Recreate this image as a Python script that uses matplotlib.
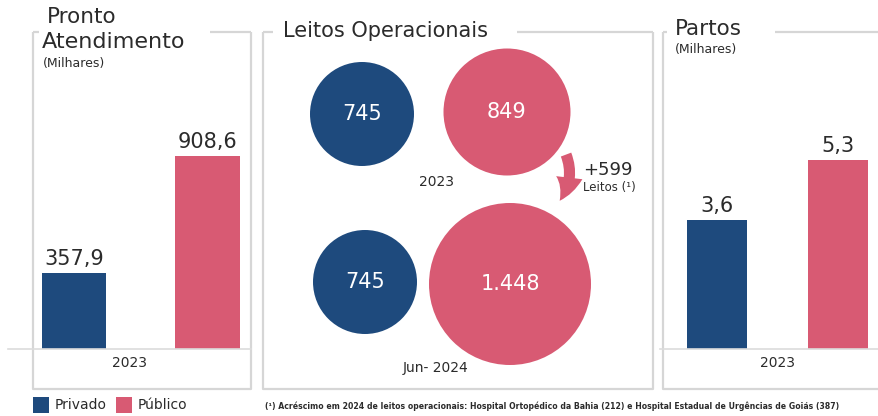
import matplotlib
matplotlib.use("Agg")
import matplotlib.pyplot as plt
from matplotlib.patches import Circle, FancyArrowPatch, Rectangle

# ---- data ----
categories = ["Privado", "Público"]
pronto_atendimento_2023 = [357.9, 908.6]   # milhares
partos_2023 = [3.6, 5.3]                   # milhares
leitos_periodos = ["2023", "Jun- 2024"]
leitos_privado = [745, 745]
leitos_publico = [849, 1448]
acrescimo_leitos = leitos_publico[1] - leitos_publico[0]
nota = ("(¹) Acréscimo em 2024 de leitos operacionais: Hospital Ortopédico da Bahia (212) "
        "e Hospital Estadual de Urgências de Goiás (387)")

# ---- style ----
BLUE = "#1e4a7d"
PINK = "#d85a73"
TEXT = "#2b2b2b"
FRAME = "#d6d6d6"
BASE = "#dcdcdc"
colors = [BLUE, PINK]
plt.rcParams["font.family"] = ["DejaVu Sans"]

W, H = 879, 416
fig = plt.figure(figsize=(W / 100, H / 100), dpi=100)


def fig_rect(x0, y0, x1, y1):
    """Pixel box (top-left origin) -> figure-fraction rectangle."""
    return [x0 / W, 1 - y1 / H, (x1 - x0) / W, (y1 - y0) / H]


def fmt_br(v):
    return f"{v:.1f}".replace(".", ",")


def fmt_int(v):
    return f"{v:,}".replace(",", ".")


def bar_panel(rect, values, xlim, px_per_unit, width, label_pad):
    ax = fig.add_axes(fig_rect(*rect))
    height_px = rect[3] - rect[1]
    ax.set_xlim(*xlim)
    ax.set_ylim(0, height_px / px_per_unit)
    xs = range(len(values))
    ax.bar(xs, values, width=width, color=colors)
    for x, v in zip(xs, values):
        ax.annotate(fmt_br(v), (x, v), xytext=(0, label_pad), textcoords="offset points",
                    ha="center", va="bottom", fontsize=15, color=TEXT)
    ax.axis("off")
    return ax


# bar panels (baseline at pixel row 349)
bar_panel((33, 32, 251, 349), pronto_atendimento_2023, (-0.307, 1.326), 0.212, 0.48, 3)
bar_panel((663, 32, 878, 349), partos_2023, (-0.446, 1.33), 35.7, 0.49, 3)

# overlay for frames, bubbles and text, in pixel coordinates
ov = fig.add_axes([0, 0, 1, 1], facecolor="none")
ov.set_xlim(0, W)
ov.set_ylim(H, 0)
ov.axis("off")


def frame(x0, x1, y0, y1, gap0, gap1):
    kw = dict(color=FRAME, lw=1.6, solid_capstyle="butt")
    ov.plot([x0, x0, x1, x1], [y0, y1, y1, y0], **kw)
    ov.plot([x0, gap0], [y0, y0], **kw)
    ov.plot([gap1, x1], [y0, y0], **kw)


frame(33, 251, 32, 389, 39, 210)
frame(263, 653, 32, 389, 273, 517)
frame(663, 880, 32, 389, 667, 775)

# baselines
ov.plot([8, 251], [349, 349], color=BASE, lw=1.2)
ov.plot([660, 879], [349, 349], color=BASE, lw=1.2)

# titles
ov.text(47, 17, "Pronto", fontsize=15.5, color=TEXT, ha="left", va="center")
ov.text(42, 42, "Atendimento", fontsize=16, color=TEXT, ha="left", va="center")
ov.text(43, 63, "(Milhares)", fontsize=9, color=TEXT, ha="left", va="center")
ov.text(283, 31, "Leitos Operacionais", fontsize=15, color=TEXT, ha="left", va="center")
ov.text(675, 29, "Partos", fontsize=15.5, color=TEXT, ha="left", va="center")
ov.text(675, 49, "(Milhares)", fontsize=9, color=TEXT, ha="left", va="center")

# category labels under bars
ov.text(130, 363, "2023", fontsize=10, color=TEXT, ha="center", va="center")
ov.text(778, 363, "2023", fontsize=10, color=TEXT, ha="center", va="center")

# bubbles: (center, radius) per period for privado / publico
bubble_layout = [
    {"priv": ((362, 114), 52), "pub": ((507, 112), 63.5), "label": (437, 182)},
    {"priv": ((365, 282), 52), "pub": ((510, 284), 81), "label": (436, 368)},
]
for period, priv, pub, lay in zip(leitos_periodos, leitos_privado, leitos_publico, bubble_layout):
    for key, val, col in (("priv", priv, BLUE), ("pub", pub, PINK)):
        (cx, cy), r = lay[key]
        ov.add_patch(Circle((cx, cy), r, color=col, lw=0))
        ov.text(cx, cy, fmt_int(val), fontsize=15, color="white", ha="center", va="center")
    ov.text(*lay["label"], period, fontsize=10, color=TEXT, ha="center", va="center")

# increase arrow
arrow = FancyArrowPatch((565, 152), (558, 203), connectionstyle="arc3,rad=-0.3",
                        arrowstyle="simple,head_width=1.9,head_length=1.8,tail_width=0.8",
                        mutation_scale=10, color=PINK, lw=0)
ov.add_patch(arrow)
ov.text(583, 170, f"+{acrescimo_leitos}", fontsize=13, color=TEXT, ha="left", va="center")
ov.text(583, 188, "Leitos (¹)", fontsize=8.5, color=TEXT, ha="left", va="center")

# legend
for (x, lab, col) in ((33, categories[0], BLUE), (116, categories[1], PINK)):
    ov.add_patch(Rectangle((x, 397), 16, 16, color=col, lw=0))
    ov.text(x + 22, 405, lab, fontsize=10, color=TEXT, ha="left", va="center")

# footnote
ov.text(265, 406, nota, fontsize=5.55, color=TEXT, ha="left", va="center", fontweight="semibold")

fig.savefig("out.png", dpi=100)
